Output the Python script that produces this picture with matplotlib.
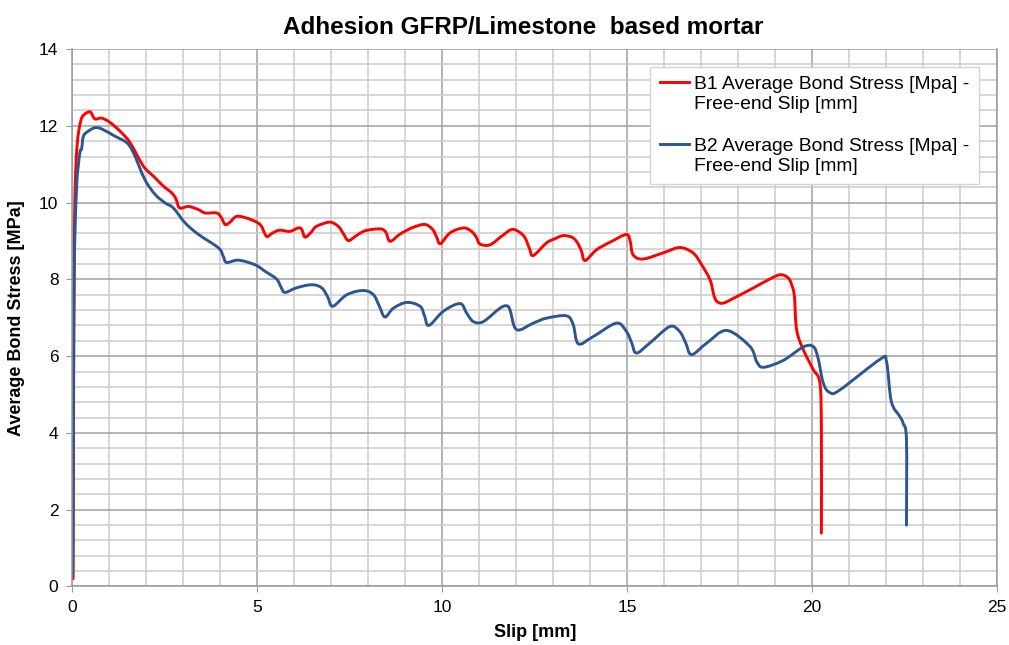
import numpy as np
import matplotlib.pyplot as plt
from matplotlib.legend_handler import HandlerLine2D
from matplotlib.patches import PathPatch
from matplotlib.path import Path
from matplotlib.ticker import MultipleLocator

plt.rcParams['font.family'] = ['Liberation Sans', 'DejaVu Sans']

# B1 specimen: slip [mm] vs average bond stress [MPa]
b1_slip = [0.02, 0.03, 0.04, 0.06, 0.09, 0.13, 0.18, 0.25, 0.33, 0.43, 0.50,
           0.61, 0.79, 1.00, 1.29, 1.56, 1.92, 2.19, 2.46, 2.69, 2.80, 2.90,
           3.14, 3.40, 3.59, 3.90, 4.02, 4.13, 4.25, 4.44, 4.70, 4.94, 5.10,
           5.25, 5.40, 5.60, 5.88, 6.11, 6.20, 6.29, 6.45, 6.60, 6.96, 7.19,
           7.32, 7.46, 7.65, 7.87, 8.10, 8.36, 8.48, 8.59, 8.86, 9.20, 9.53,
           9.74, 9.85, 9.95, 10.21, 10.57, 10.79, 10.92, 11.02, 11.29, 11.60,
           11.88, 12.10, 12.24, 12.36, 12.46, 12.82, 13.05, 13.27, 13.50,
           13.63, 13.76, 13.86, 14.17, 14.60, 14.98, 15.08, 15.16, 15.43,
           16.00, 16.42, 16.78, 17.00, 17.24, 17.34, 17.42, 17.59, 17.90,
           18.32, 18.80, 19.13, 19.35, 19.45, 19.52, 19.58, 19.76, 20.03,
           20.21, 20.25, 20.25]
b1_stress = [0.2, 3.0, 7.0, 9.6, 10.8, 11.5, 11.9, 12.2, 12.3, 12.36, 12.35,
             12.18, 12.2, 12.1, 11.86, 11.56, 10.95, 10.69, 10.43, 10.25,
             10.1, 9.86, 9.9, 9.82, 9.73, 9.73, 9.62, 9.43, 9.48, 9.64, 9.6,
             9.51, 9.4, 9.12, 9.2, 9.28, 9.25, 9.34, 9.3, 9.1, 9.22, 9.38,
             9.49, 9.38, 9.2, 9.01, 9.12, 9.25, 9.3, 9.31, 9.22, 8.99, 9.18,
             9.35, 9.43, 9.3, 9.1, 8.93, 9.21, 9.34, 9.25, 9.1, 8.92, 8.9,
             9.12, 9.3, 9.22, 9.08, 8.8, 8.62, 8.95, 9.06, 9.14, 9.1, 8.99,
             8.75, 8.49, 8.77, 9.0, 9.17, 9.0, 8.64, 8.53, 8.7, 8.83, 8.69,
             8.4, 7.99, 7.6, 7.43, 7.38, 7.52, 7.73, 7.98, 8.12, 8.04, 7.85,
             7.56, 6.69, 6.17, 5.65, 5.3, 4.08, 1.39]

# B2 specimen
b2_slip = [0.01, 0.03, 0.05, 0.07, 0.12, 0.16, 0.21, 0.25, 0.30, 0.43,
           0.61, 0.79, 1.15, 1.47, 1.65, 1.96, 2.24, 2.51, 2.73, 3.05, 3.41,
           3.95, 4.08, 4.17, 4.49, 4.94, 5.21, 5.52, 5.64, 5.75, 6.06, 6.47,
           6.74, 6.90, 7.04, 7.42, 7.86, 8.14, 8.30, 8.45, 8.68, 9.04, 9.40,
           9.52, 9.64, 10.03, 10.48, 10.66, 10.84, 11.11, 11.56, 11.74,
           11.83, 12.01, 12.46, 12.82, 13.36, 13.54, 13.68, 14.08, 14.71,
           14.98, 15.12, 15.25, 15.61, 16.15, 16.42, 16.58, 16.74, 17.15,
           17.69, 18.32, 18.50, 18.68, 19.22, 19.76, 20.03, 20.16, 20.30,
           20.48, 20.75, 21.84, 22.01, 22.14, 22.37, 22.46, 22.55, 22.55]
b2_stress = [0.3, 5.0, 8.0, 9.2, 10.5, 10.95, 11.34, 11.4, 11.73, 11.86,
             11.95, 11.92, 11.73, 11.56, 11.3, 10.6, 10.21, 9.99, 9.86, 9.47,
             9.17, 8.82, 8.6, 8.44, 8.5, 8.38, 8.21, 8.01, 7.8, 7.66, 7.78,
             7.86, 7.78, 7.55, 7.3, 7.6, 7.71, 7.6, 7.3, 7.02, 7.25, 7.4, 7.3,
             7.05, 6.8, 7.17, 7.37, 7.12, 6.9, 6.9, 7.25, 7.31, 7.21, 6.69,
             6.86, 6.99, 7.05, 6.82, 6.32, 6.51, 6.86, 6.64, 6.35, 6.08, 6.34,
             6.77, 6.64, 6.35, 6.04, 6.34, 6.67, 6.25, 5.86, 5.71, 5.89, 6.24,
             6.25, 5.95, 5.3, 5.05, 5.12, 5.92, 5.86, 4.82, 4.43, 4.25, 3.82,
             1.6]

series = [
    (b1_slip, b1_stress, '#ff0000',
     'B1 Average Bond Stress [Mpa] -\nFree-end Slip [mm]'),
    (b2_slip, b2_stress, '#2d5590',
     'B2 Average Bond Stress [Mpa] -\nFree-end Slip [mm]'),
]


def smooth_path(x, y):
    # smoothed line (Catmull-Rom segments as cubic Beziers) through the points
    p = np.column_stack([x, y]).astype(float)
    n = len(p)
    verts = [p[0]]
    codes = [Path.MOVETO]
    for i in range(n - 1):
        p0 = p[i - 1] if i > 0 else p[i]
        p1, p2 = p[i], p[i + 1]
        p3 = p[i + 2] if i + 2 < n else p[i + 1]
        verts += [p1 + (p2 - p0) / 6, p2 - (p3 - p1) / 6, p2]
        codes += [Path.CURVE4] * 3
    return Path(verts, codes)


class FirstLineHandler(HandlerLine2D):
    # put the legend line level with the first row of a two-row label
    def create_artists(self, legend, orig_handle, xdescent, ydescent,
                       width, height, fontsize, trans):
        artists = super().create_artists(legend, orig_handle, xdescent,
                                         ydescent, width, height, fontsize,
                                         trans)
        for a in artists:
            a.set_ydata(np.asarray(a.get_ydata()) + 0.62 * fontsize)
        return artists


fig = plt.figure(figsize=(10.09, 6.45), dpi=100)
ax = fig.add_axes([0.0717, 0.0907, 0.9165, 0.8333])

for x, y, c, lab in series:
    ax.add_patch(PathPatch(smooth_path(x, y), fill=False, edgecolor=c,
                           lw=2.1, joinstyle='round', capstyle='round'))
    ax.plot([], [], color=c, lw=2.1, label=lab)

ax.set_xlim(0, 25)
ax.set_ylim(0, 14)
ax.xaxis.set_major_locator(MultipleLocator(5))
ax.xaxis.set_minor_locator(MultipleLocator(1))
ax.yaxis.set_major_locator(MultipleLocator(2))
ax.yaxis.set_minor_locator(MultipleLocator(0.4))
ax.grid(which='major', color='#a0a0a0', lw=1.1)
ax.grid(which='minor', color='#cccccc', lw=1.1)
ax.set_axisbelow(True)

for s in ['left', 'bottom', 'right']:
    ax.spines[s].set_color('#9a9a9a')
    ax.spines[s].set_linewidth(1.1)
ax.spines['top'].set_visible(False)

ax.tick_params(which='major', length=4, color='#9a9a9a', labelsize=12.5,
               pad=6)
ax.tick_params(which='minor', length=0)

ax.set_title('Adhesion GFRP/Limestone  based mortar', fontsize=17.5,
             fontweight='bold', pad=11, x=0.488)
ax.set_xlabel('Slip [mm]', fontsize=13, fontweight='bold', labelpad=6)
ax.set_ylabel('Average Bond Stress [MPa]', fontsize=13, fontweight='bold',
              labelpad=10)

leg = ax.legend(loc='upper left', bbox_to_anchor=(0.625, 0.967),
                fontsize=13.9, fancybox=False, framealpha=1,
                edgecolor='#d4d4d4', handlelength=1.5, handletextpad=0.25,
                labelspacing=1.3, borderpad=0.5, borderaxespad=0,
                handler_map={plt.Line2D: FirstLineHandler()})
leg.get_frame().set_linewidth(1.0)

fig.savefig('out.png', dpi=100)
